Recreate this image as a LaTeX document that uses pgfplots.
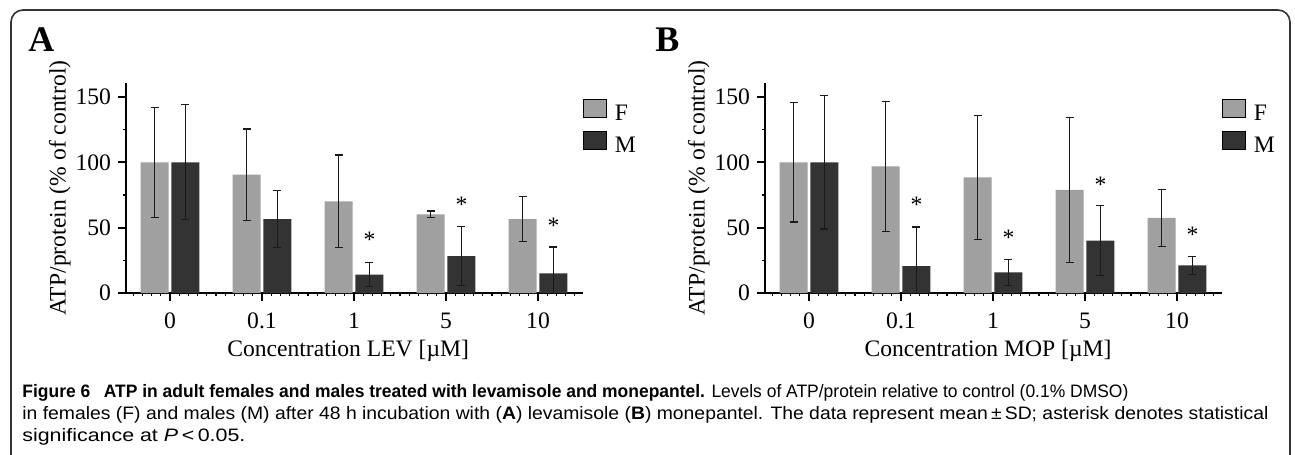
\documentclass[border=0pt]{standalone}
\usepackage{pgfplots}
\pgfplotsset{compat=1.18}
\usepackage{fontspec}
\usepackage{graphicx}
\setmainfont{Liberation Serif}
\newfontfamily\capfont{Liberation Sans}
\definecolor{fgray}{HTML}{A0A0A0}
\definecolor{mgray}{HTML}{333333}
\definecolor{errc}{HTML}{1A1A1A}
\newlength\capw
\newcommand\fitline[2]{\settowidth{\capw}{#2}\pgfmathsetmacro\capr{(#1)/\capw}\scalebox{\capr}[1]{#2}}

\pgfplotstableread{
x      y     e
-0.168 100   42
0.832  90.5  35
1.832  70.2  35.5
2.832  60.2  2.5
3.832  56.6  17
}\Afem
\pgfplotstableread{
x      y     e
0.168  100   44
1.168  56.6  22
2.168  14.1  9
3.168  28.2  22.7
4.168  15.1  20
}\Amal
\pgfplotstableread{
x      y     e
-0.168 100   45.7
0.832  96.9  49.7
1.832  88.5  47.6
2.832  78.9  55.5
3.832  57.4  22
}\Bfem
\pgfplotstableread{
x      y     e
0.168  100   51
1.168  20.5  30
2.168  15.8  9.9
3.168  40.0  26.7
4.168  21.2  6.8
}\Bmal

\pgfplotsset{
  panel/.style={
    scale only axis, width=228.5bp, height=105bp,
    anchor=south west,
    xmin=-0.478, xmax=4.489, ymin=0, ymax=160.7,
    axis x line*=bottom, axis y line*=left,
    axis line style={line width=1bp, black, -},
    xtick={0,1,2,3,4}, xticklabels={0,0.1,1,5,10},
    ytick={0,50,100,150}, minor ytick={25,75,125},
    minor xtick={-0.4,-0.3,...,4.45},
    tick align=outside, major tick length=4bp, minor tick length=1.6bp,
    major tick style={line width=0.9bp, black},
    minor tick style={line width=0.6bp, black},
    /pgf/number format/assume math mode=true,
    ticklabel style={font=\fontsize{11.8bp}{14bp}\selectfont},
    xticklabel style={yshift=-2.3bp},
    ylabel={ATP/protein (\% of control)},
    every axis y label/.style={at={(axis description cs:-0.145,0.5)}, rotate=90, anchor=center,
      font=\fontsize{11.8bp}{14bp}\selectfont},
    legend image code/.code={\fill[##1] (0bp,-0.4bp) rectangle (11.5bp,8.6bp);},
    legend style={at={(axis description cs:1.0,0.924)}, anchor=north west,
      draw=none, fill=none, inner sep=0pt, outer sep=0pt,
      column sep=4bp,
      nodes={inner sep=0pt, outer sep=0pt, text height=9bp, text depth=5bp},
      font=\fontsize{11.8bp}{14bp}\selectfont, legend cell align=left},
  },
  xlab/.style={every axis x label/.style={at={(axis description cs:#1,-0.275)}, anchor=center,
      font=\fontsize{11.8bp}{14bp}\selectfont}},
  fbar/.style={ybar, bar width=0.304, bar shift=0pt, fill=fgray, draw=none, forget plot,
    error bars/y dir=both, error bars/y explicit,
    error bars/error bar style={line width=0.65bp, color=errc},
    error bars/error mark options={rotate=90, mark size=2bp, line width=0.65bp, color=errc}},
  mbar/.style={fbar, fill=mgray},
  stars/.style={draw=none, mark=none, forget plot, nodes near coords={*},
    every node near coord/.style={anchor=center, inner sep=0pt, font=\fontsize{11.8bp}{14bp}\selectfont}},
}

\begin{document}
\begin{tikzpicture}
\useasboundingbox (0,0) rectangle (647.5bp,-227.5bp);
\draw[line width=0.8bp, color=black!80, rounded corners=6bp]
  (5.5bp,-227.5bp) -- (5.5bp,-5bp) -- (645bp,-5bp) -- (645bp,-227.5bp);

\node[anchor=base west, inner sep=0pt, font=\fontsize{18bp}{20bp}\selectfont\bfseries] at (14bp,-25.5bp) {A};
\node[anchor=base west, inner sep=0pt, font=\fontsize{18bp}{20bp}\selectfont\bfseries] at (327.5bp,-25.5bp) {B};

% Panel A
\begin{axis}[panel, at={(63bp,-146.5bp)}, xlab=0.486,
  xlabel={Concentration LEV [µM]}]
\addplot[fbar] table[x=x, y=y, y error=e] {\Afem};
\addplot[mbar] table[x=x, y=y, y error=e] {\Amal};
\addplot[stars] coordinates {(2.168,40.5) (3.168,67.7) (4.168,51.8)};
\addlegendimage{fill=fgray}\addlegendentry{F}
\addlegendimage{fill=mgray}\addlegendentry{M}
\end{axis}

% Panel B
\begin{axis}[panel, at={(382.5bp,-146.5bp)}, xlab=0.488,
  xlabel={Concentration MOP [µM]}]
\addplot[fbar] table[x=x, y=y, y error=e] {\Bfem};
\addplot[mbar] table[x=x, y=y, y error=e] {\Bmal};
\addplot[stars] coordinates {(1.168,67.7) (2.168,42.6) (3.168,83.1) (4.168,44.6)};
\addlegendimage{fill=fgray}\addlegendentry{F}
\addlegendimage{fill=mgray}\addlegendentry{M}
\end{axis}

% Caption
\node[anchor=base west, inner sep=0pt] at (11bp,-198.5bp)
  {\fitline{553bp}{\capfont\fontsize{9bp}{11bp}\selectfont{\bfseries Figure 6\hspace{0.5em} ATP in adult females and males treated with levamisole and monepantel.} Levels of ATP/protein relative to control (0.1\% DMSO)}};
\node[anchor=base west, inner sep=0pt] at (11bp,-209.5bp)
  {\fitline{623bp}{\capfont\fontsize{9bp}{11bp}\selectfont in females (F) and males (M) after 48 h incubation with (\textbf{A}) levamisole (\textbf{B}) monepantel. The data represent mean\,±\,SD; asterisk denotes statistical}};
\node[anchor=base west, inner sep=0pt] at (11bp,-220.5bp)
  {\fitline{111.5bp}{\capfont\fontsize{9bp}{11bp}\selectfont significance at \textit{P}\,<\,0.05.}};
\end{tikzpicture}
\end{document}
